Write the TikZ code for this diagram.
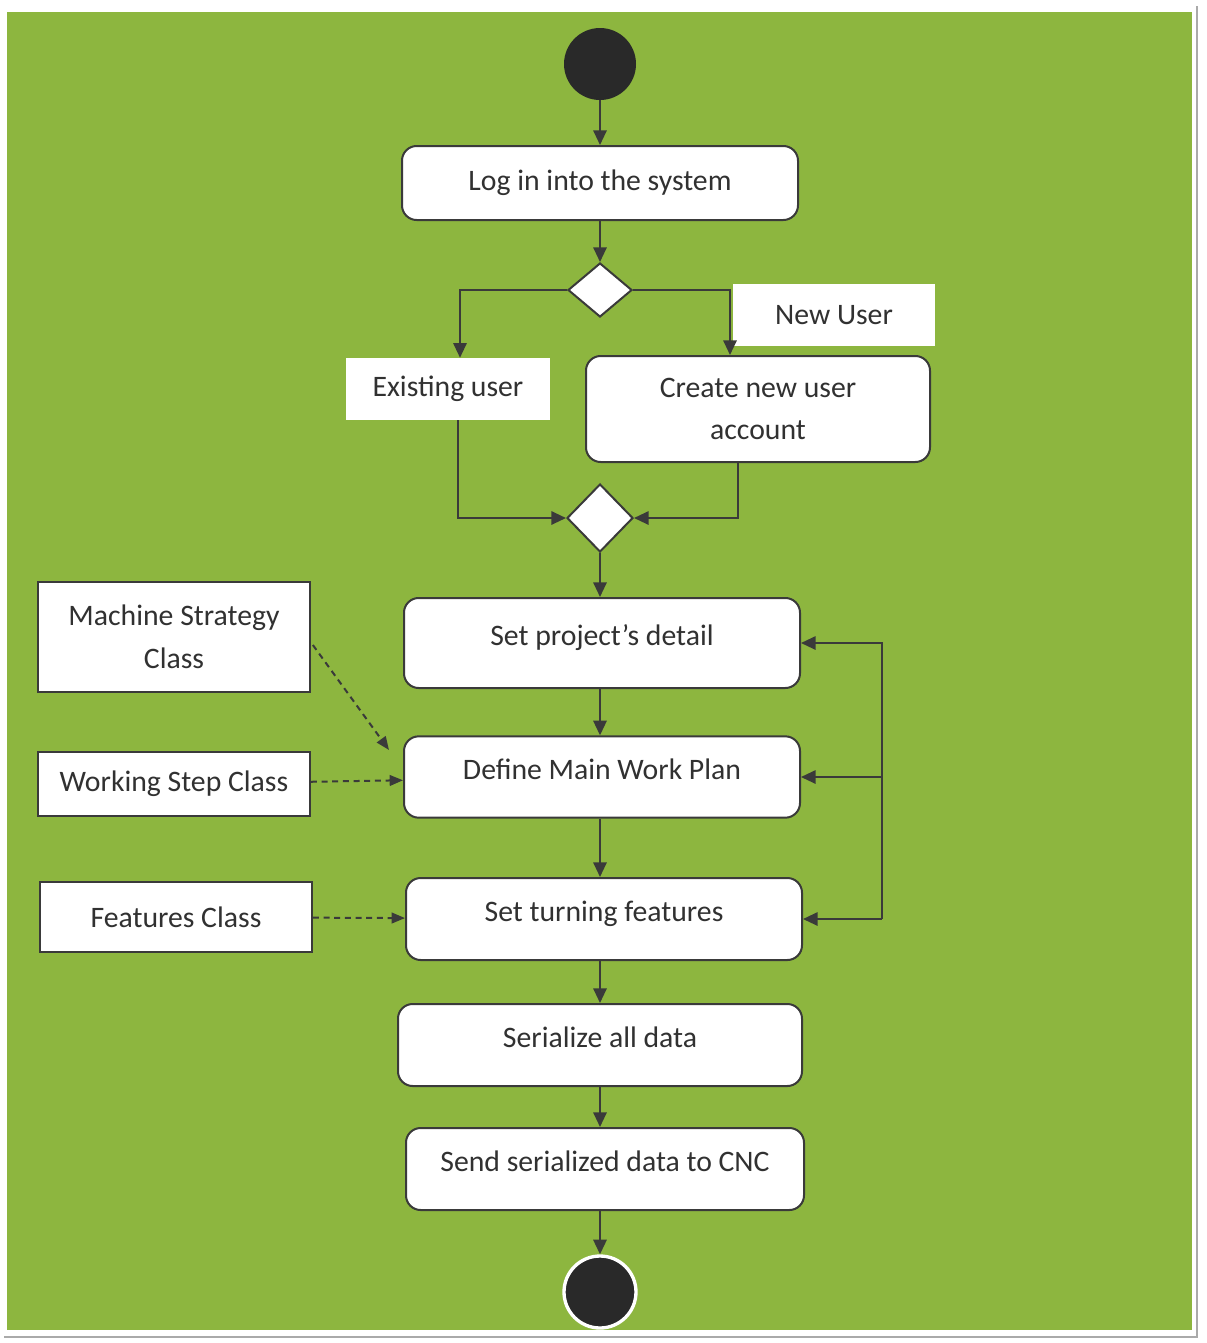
\documentclass[tikz,border=0pt]{standalone}
\usepackage{fontspec}
\setmainfont{Carlito}
\usetikzlibrary{shapes.geometric,arrows.meta}

\definecolor{bggreen}{RGB}{141,182,63}
\definecolor{inkgray}{RGB}{58,58,58}
\definecolor{framegray}{RGB}{170,170,170}

\tikzset{
  actbox/.style={draw=inkgray,fill=white,rounded corners=11pt,line width=1.5pt,text=inkgray!85!black,font=\fontsize{22.3}{32}\selectfont,align=center,inner sep=0pt},
  lift/.style={text depth=12pt},
  clsbox/.style={draw=inkgray,fill=white,line width=1.3pt,text=inkgray!85!black,font=\fontsize{22.3}{32}\selectfont,align=center,inner sep=0pt},
  guard/.style={fill=white,text=inkgray!85!black,font=\fontsize{22.3}{25}\selectfont,inner sep=0pt},
  choice/.style={diamond,draw=inkgray,fill=white,line width=1.5pt,inner sep=0pt},
  flow/.style={draw=inkgray,line width=1.5pt,-{Triangle[length=11pt,width=10pt]}},
  dep/.style={draw=inkgray,line width=1.5pt,dash pattern=on 4.5pt off 3.5pt,-{Triangle[length=10pt,width=8pt]}}
}

\begin{document}
\begin{tikzpicture}[x=0.75pt,y=0.75pt,yscale=-1,xscale=1]
  %set diagram size to the reference page
  \useasboundingbox (0,0) rectangle (1207,1343);
  \fill[white] (0,0) rectangle (1207,1343);
  \fill[bggreen] (7,12) rectangle (1192,1330);
  \draw[framegray,line width=1pt] (1197,6) -- (1197,1337) -- (4,1337);

  % Start and end
  \node[circle,fill=inkgray!70!black,minimum size=54pt,inner sep=0pt] (start) at (600,64) {};
  \node[circle,fill=inkgray!70!black,draw=white,line width=2.5pt,minimum size=54pt,inner sep=0pt] (stop) at (600,1292) {};

  % Activities
  \node[actbox,minimum width=297pt,minimum height=55.5pt] (login) at (600,183) {Log in into the system};
  \node[actbox,minimum width=258pt,minimum height=79.5pt] (create) at (758,409) {Create new user\\account};
  \node[actbox,lift,minimum width=297pt,minimum height=67.5pt] (project) at (602,643) {Set project’s detail};
  \node[actbox,lift,minimum width=297pt,minimum height=61pt] (workplan) at (602,777) {Define Main Work Plan};
  \node[actbox,lift,minimum width=297pt,minimum height=61.5pt] (turning) at (604,919) {Set turning features};
  \node[actbox,lift,minimum width=303pt,minimum height=61.5pt] (serialize) at (600,1045) {Serialize all data};
  \node[actbox,lift,minimum width=298.5pt,minimum height=61.5pt] (send) at (605,1169) {Send serialized data to CNC};

  % Decisions
  \node[choice,minimum width=48pt,minimum height=40.5pt] (split) at (600,290) {};
  \node[choice,minimum width=49.5pt,minimum height=51pt] (merge) at (600,518) {};

  % Guards
  \node[guard,minimum width=153pt,minimum height=46.5pt] (existing) at (448,389) {Existing user};
  \node[guard,minimum width=152pt,minimum height=46pt] (newuser) at (834,315) {New User};

  % Classes
  \node[clsbox,minimum width=204pt,minimum height=82.5pt] (machine) at (174,637) {Machine Strategy\\Class};
  \node[clsbox,minimum width=204pt,minimum height=48pt] (workstep) at (174,784) {Working Step Class};
  \node[clsbox,minimum width=204pt,minimum height=52.5pt] (features) at (176,917) {Features Class};

  % Control flow
  \draw[flow] (start) -- (login);
  \draw[flow] (login) -- (split);
  \draw[flow] (split.west) -| ([shift={(12,0)}]existing.north);
  \draw[flow] (split.east) -| ([shift={(-28,0)}]create.north);
  \draw[flow] ([shift={(10,0)}]existing.south) |- (merge.west);
  \draw[flow] ([shift={(-20,0)}]create.south) |- (merge.east);
  \draw[flow] (merge) -- (merge |- project.north);
  \draw[flow] (project.south -| 600,0) -- (workplan.north -| 600,0);
  \draw[flow] (workplan.south -| 600,0) -- (turning.north -| 600,0);
  \draw[flow] (turning.south -| 600,0) -- (serialize.north -| 600,0);
  \draw[flow] (serialize) -- (serialize |- send.north);
  \draw[flow] (send.south -| 600,0) -- (stop);

  % Loop back
  \coordinate (back) at (882,919);
  \draw[flow] (back) -- (turning.east);
  \draw[flow] (back) |- (project.east);
  \draw[flow] (back |- workplan.east) -- (workplan.east);

  % Dependencies
  \draw[dep] ([shift={(2,8)}]machine.east) -- ([shift={(-14,-27)}]workplan.west);
  \draw[dep] (workstep) -- (workplan);
  \draw[dep] (features) -- (turning);
\end{tikzpicture}
\end{document}
